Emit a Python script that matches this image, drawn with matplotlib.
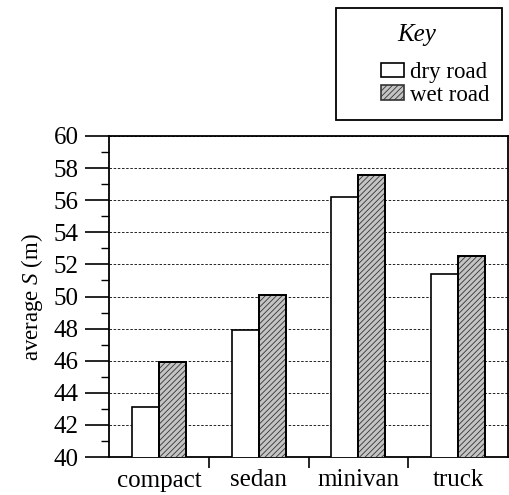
import numpy as np
import matplotlib
matplotlib.use("Agg")
import matplotlib.pyplot as plt
from matplotlib.ticker import MultipleLocator
from matplotlib.patches import Rectangle, Patch

# Data
categories = ["compact", "sedan", "minivan", "truck"]
dry_road = [43.1, 47.9, 56.2, 51.4]
wet_road = [45.9, 50.1, 57.6, 52.5]
y_ticks = [40, 42, 44, 46, 48, 50, 52, 54, 56, 58, 60]

plt.rcParams["font.family"] = ["Liberation Serif", "DejaVu Serif"]
plt.rcParams["mathtext.fontset"] = "custom"
plt.rcParams["mathtext.it"] = "Liberation Serif:italic"
plt.rcParams["mathtext.rm"] = "Liberation Serif"
plt.rcParams["hatch.linewidth"] = 0.6

W, H = 509, 495
fig = plt.figure(figsize=(W / 100, H / 100), dpi=100)
ax = fig.add_axes([109 / W, 38 / H, (508 - 109) / W, (457 - 136) / H])

x = np.arange(len(categories))
w = 0.27
wet_style = dict(facecolor="#c4c4c4", hatch="//////", edgecolor="#333333")

ax.bar(x - w / 2, dry_road, w, color="white",
       edgecolor="black", linewidth=1.2, zorder=3)
ax.bar(x + w / 2, wet_road, w, linewidth=1.2, zorder=3, **wet_style)
# solid outline over the hatched bars
ax.bar(x + w / 2, wet_road, w, color="none", edgecolor="black",
       linewidth=1.4, zorder=4)

ax.set_ylim(40, 60)
ax.set_xlim(-0.5, 3.5)
ax.set_yticks(y_ticks)
ax.yaxis.set_minor_locator(MultipleLocator(1))
ax.yaxis.grid(True, linestyle=(0, (3, 2)), color="black", linewidth=0.6, zorder=0)

ax.set_xticks([0.5, 1.5, 2.5])
ax.set_xticklabels([])
ax.set_xticks(x, minor=True)
ax.set_xticklabels(categories, minor=True, fontsize=18)
ax.tick_params(axis="x", which="minor", length=0, pad=9)
ax.tick_params(axis="x", which="major", direction="out", length=8, width=1.2)
ax.tick_params(axis="y", which="major", direction="out", length=17, width=1.2,
               labelsize=18, pad=5)
ax.tick_params(axis="y", which="minor", direction="out", length=6, width=1.0)

for s in ax.spines.values():
    s.set_linewidth(1.3)

ax.set_ylabel("average $\\mathit{S}$ (m)", fontsize=16.5, labelpad=6)

# key box
fig.patches.append(Rectangle((336 / W, 1 - 120 / H), (502 - 336) / W, 112 / H,
                             transform=fig.transFigure, fill=False,
                             edgecolor="black", linewidth=1.3))
fig.text(417 / W, 1 - 35 / H, "Key", fontsize=18, style="italic",
         ha="center", va="center")
handles = [Patch(facecolor="white", edgecolor="black", linewidth=1.2),
           Patch(linewidth=1.2, **wet_style)]
fig.legend(handles, ["dry road", "wet road"], loc="upper left",
           bbox_to_anchor=(381 / W, 1 - 62 / H), fontsize=16.5, frameon=False,
           borderpad=0, borderaxespad=0, handlelength=1.0, handleheight=0.6,
           handletextpad=0.25, labelspacing=0.08)

fig.savefig("out.png", dpi=100)
